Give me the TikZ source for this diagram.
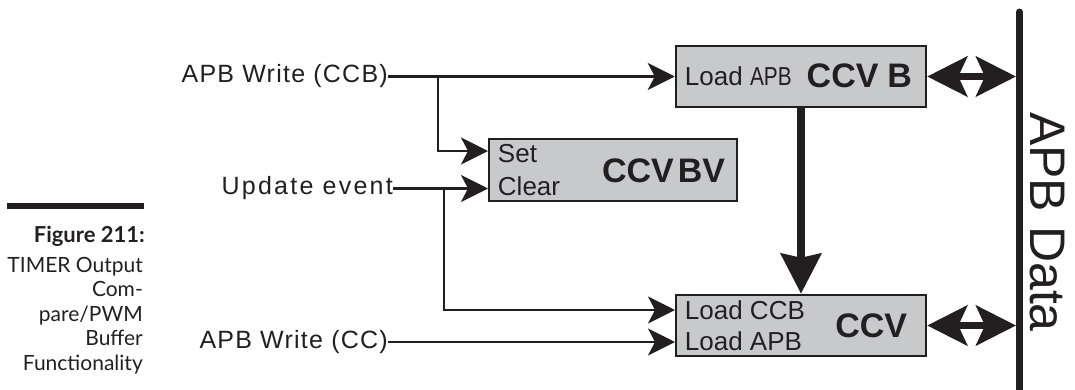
\documentclass[tikz,border=0pt]{standalone}
\usepackage{fontspec}
\usepackage{graphicx}
\setmainfont{Liberation Sans}
\newfontfamily\capfont{Lato}
\usetikzlibrary{arrows.meta,positioning}
\definecolor{ink}{RGB}{35,31,32}
\definecolor{regfill}{RGB}{200,201,203}

\begin{document}
\begin{tikzpicture}[x=1pt,y=-1pt,
  reg/.style={rectangle,draw=ink,line width=2.5pt,fill=regfill,inner sep=0pt},
  inp/.style={font=\fontsize{25}{30}\selectfont\addfontfeature{LetterSpace=5},text=ink,inner sep=0pt},
  boxtxt/.style={font=\fontsize{26}{30}\selectfont,text=ink,inner sep=0pt,anchor=base west},
  regname/.style={font=\fontsize{34}{38}\selectfont\bfseries,text=ink,inner sep=0pt,anchor=base east},
  sig/.style={draw=ink,line width=2.6pt,-{Stealth[length=27pt,width=27pt,inset=7pt]}},
  dbl/.style={draw=ink,line width=7pt,{Stealth[length=40pt,width=40pt,inset=9pt]}-{Stealth[length=40pt,width=40pt,inset=9pt]}},
  captxt/.style={font=\capfont\fontsize{21}{25}\selectfont,text=ink,inner sep=0pt,anchor=base east}]
\useasboundingbox (0,0) rectangle (1075,389);

% registers
\node[reg,minimum width=250pt,minimum height=61pt] (ccvb) at (801,76.5) {};
\node[reg,minimum width=248pt,minimum height=62pt] (ccvbv) at (613,170) {};
\node[reg,minimum width=250pt,minimum height=61pt] (ccv) at (801,325.5) {};

\node[boxtxt] (ldapb) at ([xshift=10pt,yshift=-9pt]ccvb.west) {Load \scalebox{0.8}[1]{APB}};
\node[regname] (nccvb) at ([xshift=-15pt,yshift=-10.5pt]ccvb.east) {CCV\hspace{9pt}B};
\node[boxtxt] (set) at ([xshift=10pt,yshift=8pt]ccvbv.west) {Set};
\node[boxtxt] (clr) at ([xshift=10pt,yshift=-25pt]ccvbv.west) {Clear};
\node[regname] (nccvbv) at ([xshift=-13pt,yshift=-12pt]ccvbv.east) {CCV\hspace{4pt}BV};
\node[boxtxt] (ldccb) at ([xshift=10pt,yshift=6.5pt]ccv.west) {Load CCB};
\node[boxtxt] (ldapb2) at ([xshift=10pt,yshift=-24.5pt]ccv.west) {Load APB};
\node[regname] (nccv) at ([xshift=-20pt,yshift=-11.5pt]ccv.east) {CCV};

% inputs
\node[inp,anchor=east] (wccb) at (388,76.5) {APB Write (CCB)};
\node[inp,anchor=east,font=\fontsize{25}{30}\selectfont\addfontfeature{LetterSpace=9}] (upd) at (393,188.5) {Update event};
\node[inp,anchor=east] (wcc) at (388,342) {APB Write (CC)};

\coordinate (br1) at (438,76.5);
\coordinate (br2) at (444,188.5);
\coordinate (setin) at (488,151);
\coordinate (clrin) at (488,188.5);
\coordinate (ccbin) at (675,310);
\coordinate (apbin) at (675,342);

\draw[sig] (wccb.east) -- (ccvb.west);
\draw[sig] (br1) |- (setin);
\draw[sig] (upd.east) -- (clrin);
\draw[sig] (br2) |- (ccbin);
\draw[sig] (wcc.east) -- (apbin);

% CCVB -> CCV
\draw[ink,line width=8pt,-{Stealth[length=40pt,width=40pt,inset=4pt]}] (ccvb.south) -- (ccv.north);

% data bus
\coordinate (bustop) at (1019.5,12);
\coordinate (busend) at (1019.5,395);
\draw[ink,line width=7pt,line cap=round] (bustop) -- (busend);
\coordinate (busB) at (1016,76.5);
\coordinate (busC) at (1016,325.5);
\draw[dbl] (ccvb.east) -- (busB);
\draw[dbl] (ccv.east) -- (busC);
\node[font=\fontsize{50}{54}\selectfont,text=ink,rotate=-90,anchor=base,inner sep=0pt] (apbdata) at (1030,222) {APB Data};

% caption
\draw[ink,line width=6pt] (7,206) -- (144,206);
\node[captxt,font=\capfont\bfseries\fontsize{22}{26}\selectfont] (fig) at (145,242) {Figure 211:};
\node[captxt] (cl1) at (143,272) {TIMER Output};
\node[captxt] (cl2) at (143,296.5) {Com-};
\node[captxt] (cl3) at (143,321) {pare/PWM};
\node[captxt] (cl4) at (143,345.5) {Buffer};
\node[captxt] (cl5) at (143,370) {Functionality};
\end{tikzpicture}
\end{document}
